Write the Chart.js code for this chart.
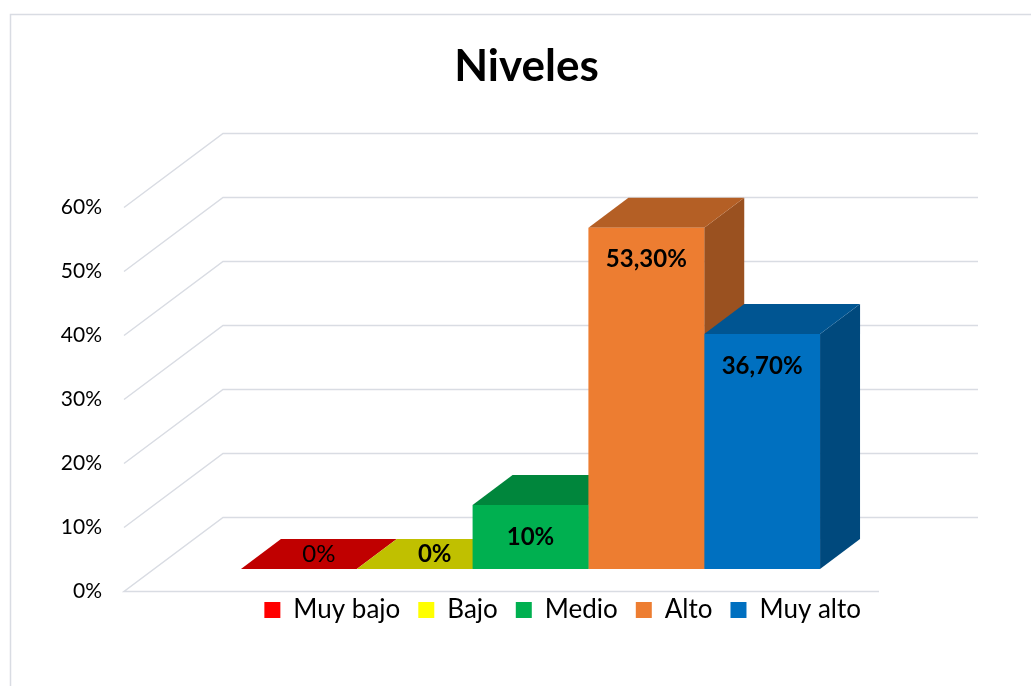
<!DOCTYPE html>
<html>
<head>
<meta charset="utf-8">
<script src="https://cdn.jsdelivr.net/npm/chart.js"></script>
<style>
  html, body { margin: 0; padding: 0; background: #fff; }
  canvas { display: block; }
</style>
</head>
<body>
<canvas id="grafica" width="1031" height="686"></canvas>
<script>
const categorias = ['Muy bajo', 'Bajo', 'Medio', 'Alto', 'Muy alto'];
const valores = [0, 0, 10, 53.3, 36.7];
const ticksY = [0, 10, 20, 30, 40, 50, 60];

const coloresFrente = ['#FF0000', '#FFFF00', '#00B050', '#ED7D31', '#0070C0'];
const coloresArriba = ['#C00000', '#C0C000', '#00863C', '#B45F25', '#005592'];
const coloresLado = ['#A60000', '#A6A600', '#007334', '#9A5120', '#00497D'];
const pesoEtiqueta = ['normal', 'bold', 'bold', 'bold', 'bold'];

const fondo = { x: 99, y: -74 };    // pared del fondo
const desfase = { x: 29, y: -22 };  // cara frontal de las barras
const prof = { x: 40, y: -30 };     // profundidad de cada barra

Chart.defaults.font.family = 'Lato';

function etiqueta(v) {
    return Number.isInteger(v) ? v + '%' : v.toFixed(2).replace('.', ',') + '%';
}

function poligono(ctx, pts, color) {
    ctx.beginPath();
    ctx.moveTo(pts[0][0], pts[0][1]);
    pts.slice(1).forEach(p => ctx.lineTo(p[0], p[1]));
    ctx.closePath();
    ctx.fillStyle = color;
    ctx.fill();
}

const efecto3d = {
    id: 'efecto3d',
    afterLayout(chart) {
        chart.titleBlock.left += 82;
        chart.titleBlock.right += 82;
        chart.legend.top -= 12;
        chart.legend.bottom -= 12;
    },
    beforeDraw(chart) {
        const ctx = chart.ctx;
        ctx.save();
        ctx.strokeStyle = '#D9DCE3';
        ctx.lineWidth = 1.5;
        ctx.strokeRect(10.5, 14.5, 1200, 900);
        ctx.restore();
    },
    beforeDatasetsDraw(chart) {
        const { ctx, chartArea: a, scales: { y } } = chart;
        ctx.save();
        ctx.strokeStyle = '#D9DCE3';
        ctx.lineWidth = 1.5;
        ticksY.forEach(v => {
            const py = Math.round(y.getPixelForValue(v)) + 0.5;
            ctx.beginPath();
            if (v === 0) {
                ctx.moveTo(a.right, py);
                ctx.lineTo(a.left, py);
            } else {
                ctx.moveTo(a.left, py);
            }
            ctx.lineTo(a.left + fondo.x, py + fondo.y);
            ctx.lineTo(a.right + fondo.x, py + fondo.y);
            ctx.stroke();
        });
        chart.data.datasets.forEach((ds, i) => {
            const el = chart.getDatasetMeta(i).data[0];
            const x0 = el.x - el.width / 2 + desfase.x;
            const x1 = x0 + el.width;
            const yt = el.y + desfase.y;
            const yb = el.base + desfase.y;
            if (yb - yt > 0.5) {
                poligono(ctx, [[x1, yt], [x1 + prof.x, yt + prof.y], [x1 + prof.x, yb + prof.y], [x1, yb]], coloresLado[i]);
            }
            poligono(ctx, [[x0, yt], [x1, yt], [x1 + prof.x, yt + prof.y], [x0 + prof.x, yt + prof.y]], coloresArriba[i]);
        });
        ctx.restore();
        ctx.save();
        ctx.translate(desfase.x, desfase.y);
    },
    afterDatasetsDraw(chart) {
        const ctx = chart.ctx;
        ctx.restore();
        ctx.save();
        ctx.fillStyle = '#000';
        ctx.textAlign = 'center';
        ctx.textBaseline = 'middle';
        chart.data.datasets.forEach((ds, i) => {
            const el = chart.getDatasetMeta(i).data[0];
            const v = ds.data[0];
            ctx.font = pesoEtiqueta[i] + ' 24px Lato';
            let x = el.x + desfase.x;
            let yy = el.y + desfase.y + 32;
            if (v === 0) {
                x += prof.x / 2;
                yy = el.base + desfase.y + prof.y / 2;
            }
            ctx.fillText(etiqueta(v), x, yy);
        });
        ctx.restore();
    }
};

new Chart(document.getElementById('grafica'), {
    type: 'bar',
    data: {
        labels: [''],
        datasets: categorias.map((c, i) => ({
            label: c,
            data: [valores[i]],
            backgroundColor: coloresFrente[i],
            borderWidth: 0,
            clip: false,
            categoryPercentage: 0.767,
            barPercentage: 1
        }))
    },
    options: {
        responsive: false,
        animation: false,
        layout: { padding: { left: 10, right: 152, top: 0, bottom: 41 } },
        plugins: {
            tooltip: { enabled: false },
            title: {
                display: true,
                text: 'Niveles',
                color: '#000',
                font: { size: 44, weight: 'bold' },
                padding: { top: 40, bottom: 114 }
            },
            legend: {
                position: 'bottom',
                align: 'end',
                labels: {
                    color: '#000',
                    font: { size: 26 },
                    boxWidth: 16,
                    boxHeight: 16,
                    padding: 18
                }
            }
        },
        scales: {
            x: { display: false },
            y: {
                min: 0,
                max: 60,
                afterFit: s => { s.width = 114; },
                grid: { display: false, drawTicks: false },
                border: { display: false },
                ticks: {
                    stepSize: 10,
                    padding: 22,
                    color: '#000',
                    font: { size: 21 },
                    callback: v => v + '%'
                }
            }
        }
    },
    plugins: [efecto3d]
});
</script>
</body>
</html>
